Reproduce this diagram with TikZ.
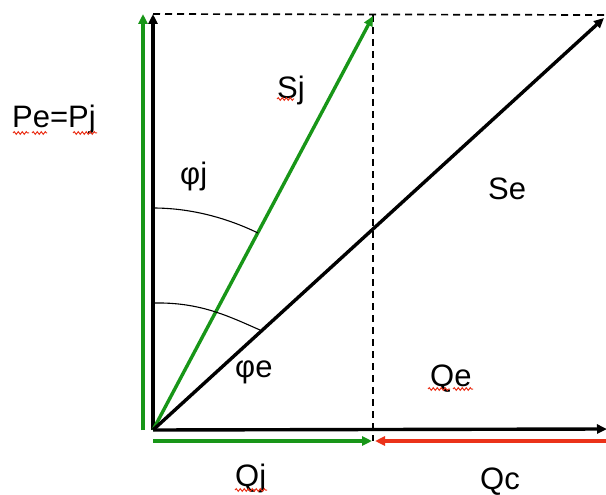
\documentclass[tikz,border=0pt]{standalone}
\usepackage{fontspec}
\setmainfont{Liberation Sans}
\usetikzlibrary{arrows.meta,decorations.pathmorphing}
\definecolor{vgreen}{RGB}{24,150,24}
\definecolor{vred}{RGB}{235,50,25}
\begin{document}
\begin{tikzpicture}[x=1pt,y=-1pt,
  vec/.style={line width=3.4pt,-{Triangle[length=10pt,width=9pt]}},
  guide/.style={line width=1.7pt,dash pattern=on 7pt off 5pt},
  anglearc/.style={line width=1.1pt},
  lbl/.style={font=\fontsize{31}{32}\selectfont,inner sep=0pt,anchor=base west},
  spell/.style={vred,line width=1pt,decorate,decoration={snake,amplitude=1.3pt,segment length=4pt}}]
\useasboundingbox (0,0) rectangle (606,495);
\clip (0,0) rectangle (606,495);
\fill[white] (0,0) rectangle (606,495);
% coordinates
\coordinate (O) at (153,430);
\coordinate (Ptop) at (153,14);
\coordinate (Gbot) at (143,430);
\coordinate (Gtop) at (143,14);
\coordinate (TR) at (606,15);
\coordinate (DTop) at (373,15);
\coordinate (DBot) at (373,441);
\coordinate (SjTip) at (373,16);
\coordinate (SeTip) at (604,18);
\coordinate (QEnd) at (607,429);
\coordinate (GhStart) at (153,441);
\coordinate (GhEnd) at (372,441);
\coordinate (RStart) at (610,441);
\coordinate (REnd) at (375,441);
% dashed guides
\draw[guide] (Ptop) -- (TR);
\draw[guide] (DTop) -- (DBot);
% vectors
\draw[vec] (O) -- (Ptop);
\draw[vec,vgreen] (Gbot) -- (Gtop);
\draw[vec] (O) -- (QEnd);
\draw[vec,vgreen] (O) -- (SjTip);
\draw[vec] (O) -- (SeTip);
\draw[vec,vgreen] (GhStart) -- (GhEnd);
\draw[vec,vred] (RStart) -- (REnd);
% angle arcs
\coordinate (AjS) at (153,208);
\coordinate (AjE) at (258,233);
\draw[anglearc] (AjS) .. controls (189,208) and (225,217) .. (AjE);
\coordinate (AeS) at (153,303);
\coordinate (AeE) at (260,330);
\draw[anglearc] (AeS) .. controls (200,302) and (228,316) .. (AeE);
% labels
\node[lbl] (pe) at (12,128) {Pe=Pj};
\node[lbl] (sj) at (277,99) {Sj};
\node[lbl] (phij) at (180,184) {φj};
\node[lbl] (se) at (488,199) {Se};
\node[lbl] (phie) at (235,377) {φe};
\node[lbl] (qe) at (430,386) {Qe};
\node[lbl] (qj) at (235,486) {Qj};
\node[lbl] (qc) at (480,489) {Qc};
% spell-check marks
\draw[spell] (13,133) -- (29,133);
\draw[spell] (32,133) -- (47,133);
\draw[spell] (73,133) -- (97,133);
\draw[spell] (277,99) -- (294,99);
\draw[spell] (428,389) -- (450,389);
\draw[spell] (453,389) -- (473,389);
\draw[spell] (235,490) -- (267,490);
\end{tikzpicture}
\end{document}
